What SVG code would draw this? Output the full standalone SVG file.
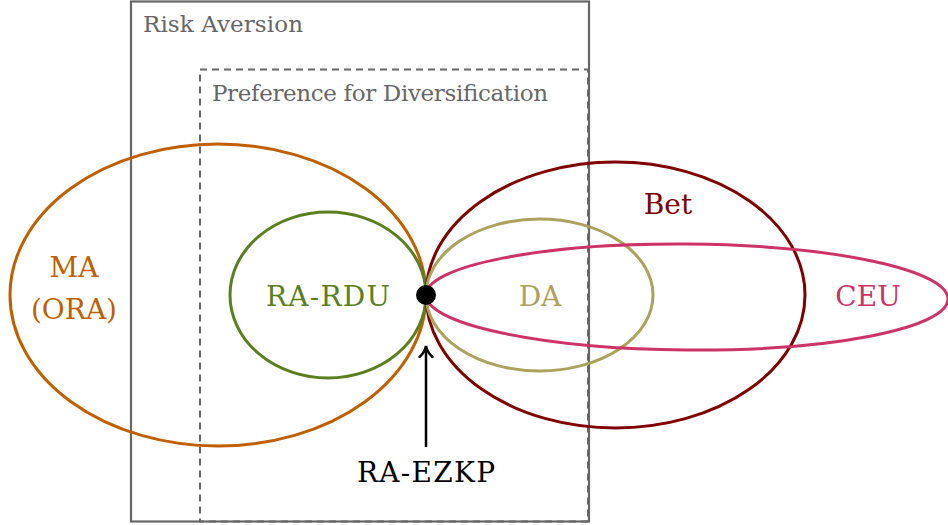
<svg xmlns="http://www.w3.org/2000/svg" width="948" height="525" viewBox="0 0 948 525">
  <style>
    text { font-family: "DejaVu Serif", "Liberation Serif", serif; }
    .big { font-size: 28px; }
    .small { font-size: 23px; fill: #666; }
    .set { fill: none; stroke-width: 3; }
  </style>
  <defs>
    <marker id="tip" viewBox="0 0 16 16" refX="13" refY="8" markerWidth="16" markerHeight="16" markerUnits="userSpaceOnUse" orient="auto">
      <path d="M2,1.5 Q7,7 13,8 Q7,9 2,14.5" fill="none" stroke="#000" stroke-width="2.4" stroke-linecap="round"/>
    </marker>
  </defs>

  <rect width="948" height="525" fill="#fff"/>

  <!-- region frames -->
  <g id="risk-aversion">
    <rect x="131" y="1.5" width="458" height="520" fill="none" stroke="#666" stroke-width="2.2"/>
    <text class="small" x="143" y="32" textLength="160">Risk Aversion</text>
  </g>
  <g id="preference-diversification">
    <rect x="200" y="69.5" width="388" height="452" fill="none" stroke="#666" stroke-width="2" stroke-dasharray="7,5"/>
    <text class="small" x="212" y="101" textLength="336">Preference for Diversification</text>
  </g>

  <!-- preference classes -->
  <g id="ma">
    <ellipse class="set" cx="218" cy="295" rx="208" ry="151" stroke="#bf5f00"/>
    <text class="big" x="74" y="277" text-anchor="middle" fill="#bf5f00">MA</text>
    <text class="big" x="74" y="319" text-anchor="middle" fill="#bf5f00">(ORA)</text>
  </g>
  <g id="ra-rdu">
    <ellipse class="set" cx="328" cy="295" rx="98" ry="83" stroke="#5b7f1f"/>
    <text class="big" x="328" y="306" text-anchor="middle" fill="#5b7f1f" textLength="124">RA-RDU</text>
  </g>
  <g id="bet">
    <ellipse class="set" cx="615.5" cy="295" rx="189.5" ry="133" stroke="#7f0000"/>
    <text class="big" x="668" y="214" text-anchor="middle" fill="#7f0000">Bet</text>
  </g>
  <g id="da">
    <ellipse class="set" cx="539.5" cy="295" rx="113.5" ry="76" stroke="#aca25e"/>
    <text class="big" x="540" y="306" text-anchor="middle" fill="#aca25e">DA</text>
  </g>
  <g id="ceu">
    <ellipse class="set" cx="687" cy="295" rx="261" ry="53" stroke="#cc3366" transform="rotate(0.45 426 295)"/>
    <text class="big" x="868" y="306" text-anchor="middle" fill="#cc3366">CEU</text>
  </g>

  <!-- common point -->
  <g id="ra-ezkp">
    <circle cx="426" cy="295" r="10" fill="#000"/>
    <text class="big" x="426" y="482" text-anchor="middle" fill="#000" textLength="138">RA-EZKP</text>
  </g>

  <g id="connectors">
    <line x1="426" y1="447" x2="426" y2="346" stroke="#000" stroke-width="2.5" marker-end="url(#tip)"/>
  </g>
</svg>
